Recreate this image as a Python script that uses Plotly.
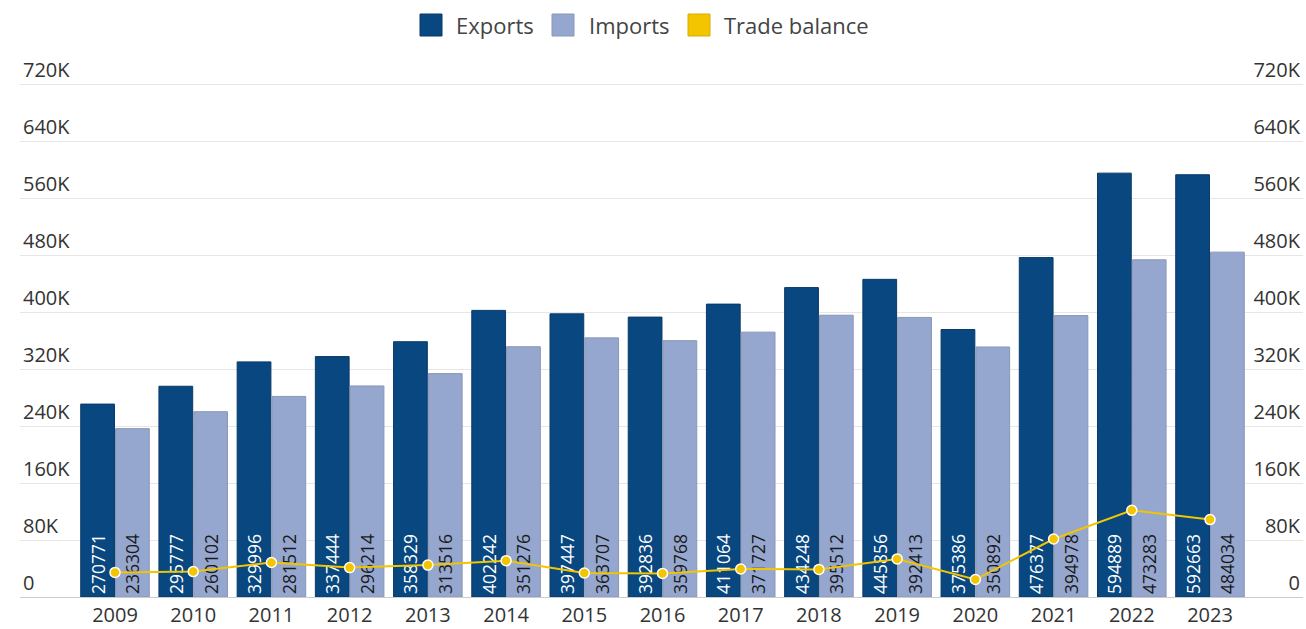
import plotly.graph_objects as go

years = [2009, 2010, 2011, 2012, 2013, 2014, 2015, 2016, 2017, 2018, 2019, 2020, 2021, 2022, 2023]
exports = [270771, 295777, 329996, 337444, 358329, 402242, 397447, 392836, 411064,
           434248, 445856, 375386, 476377, 594889, 592663]
imports = [236304, 260102, 281512, 296214, 313516, 351276, 363707, 359768, 371727,
           395512, 392413, 350892, 394978, 473283, 484034]
trade_balance = [e - i for e, i in zip(exports, imports)]

y_ticks = [0, 80000, 160000, 240000, 320000, 400000, 480000, 560000, 640000, 720000]
y_tick_labels = ["0", "80K", "160K", "240K", "320K", "400K", "480K", "560K", "640K", "720K"]

EXPORT_COLOR = "#08477f"
IMPORT_COLOR = "#95a6cf"
BALANCE_COLOR = "#f2c500"
FONT = "Open Sans"

W, H = 1306, 629
M_L, M_R, M_T, M_B = 20, 3, 30, 32
plot_w = W - M_L - M_R
plot_h = H - M_T - M_B
# 720K gridline sits at y=84; extra headroom above it keeps its label inside the plot
y_top = 720000 * plot_h / (H - M_B - 84)

# first/last category centres sit at fixed pixel columns inside the full-width plot area
c_first, c_last = 115, 1210
unit = (c_last - c_first) / (len(years) - 1)
x_lo = years[0] - (c_first - M_L) / unit
x_hi = years[-1] + (W - M_R - c_last) / unit

fig = go.Figure()
fig.add_trace(go.Bar(
    x=years, y=exports, name="Exports",
    marker=dict(color=EXPORT_COLOR, line=dict(color="#0a3a68", width=1)),
    text=[str(v) for v in exports], textposition="inside", insidetextanchor="start",
    textangle=-90, textfont=dict(family=FONT, size=17.5, color="#ffffff"),
    constraintext="none", cliponaxis=False, showlegend=False,
))
fig.add_trace(go.Bar(
    x=years, y=imports, name="Imports",
    marker=dict(color=IMPORT_COLOR, line=dict(color="#8a97b5", width=1)),
    text=[str(v) for v in imports], textposition="inside", insidetextanchor="start",
    textangle=-90, textfont=dict(family=FONT, size=17.5, color="#1a1a1a"),
    constraintext="none", cliponaxis=False, showlegend=False,
))
fig.add_trace(go.Scatter(
    x=years, y=trade_balance, name="Trade balance", mode="lines+markers",
    line=dict(color=BALANCE_COLOR, width=2),
    marker=dict(size=10, color=BALANCE_COLOR, line=dict(color="#ffffff", width=1.5)),
    showlegend=False,
))
# invisible trace to carry the right-hand axis
fig.add_trace(go.Scatter(x=[years[0]], y=[0], yaxis="y2", mode="markers",
                         marker=dict(opacity=0), showlegend=False, hoverinfo="skip"))

axis_font = dict(family=FONT, size=20, color="#333333")
fig.update_layout(
    width=W, height=H,
    margin=dict(l=M_L, r=M_R, t=M_T, b=M_B, pad=0),
    paper_bgcolor="white", plot_bgcolor="white",
    font=dict(family=FONT, color="#333333"),
    barmode="group", bargap=0.11, bargroupgap=0.03,
    xaxis=dict(range=[x_lo, x_hi], tickvals=years, ticktext=[str(y) for y in years],
               showgrid=False, zeroline=False, showline=True, linecolor="#cccccc",
               linewidth=1, ticks="", tickfont=axis_font, automargin=False,
               fixedrange=True),
    yaxis=dict(range=[0, y_top], tickvals=y_ticks, ticktext=y_tick_labels,
               showgrid=True, gridcolor="#e6e6e6", gridwidth=1, zeroline=False,
               ticklabelposition="inside top", tickfont=axis_font, automargin=False,
               fixedrange=True),
    yaxis2=dict(range=[0, y_top], tickvals=y_ticks, ticktext=y_tick_labels,
                overlaying="y", side="right", showgrid=False, zeroline=False,
                ticklabelposition="inside top", tickfont=axis_font, automargin=False,
                fixedrange=True),
)

# legend row drawn as swatches plus labels
legend_items = [
    ("Exports", EXPORT_COLOR, "#0a3a68", 420, 454),
    ("Imports", IMPORT_COLOR, "#8a97b5", 552, 587),
    ("Trade balance", BALANCE_COLOR, "#d9ae00", 688, 722),
]
sq = 22
y_centre = 25
y_paper = (H - M_B - y_centre) / plot_h
for label, fill, edge, sx, tx in legend_items:
    fig.add_shape(type="rect", xref="paper", yref="paper",
                  xsizemode="pixel", ysizemode="pixel",
                  xanchor=(sx - M_L) / plot_w, yanchor=y_paper,
                  x0=0, x1=sq, y0=-sq / 2, y1=sq / 2,
                  fillcolor=fill, line=dict(color=edge, width=1))
    fig.add_annotation(text=label, xref="paper", yref="paper",
                       x=(tx - M_L) / plot_w, y=y_paper,
                       xanchor="left", yanchor="middle", showarrow=False,
                       font=dict(family=FONT, size=22, color="#444444"))

fig.write_html("out.html")
